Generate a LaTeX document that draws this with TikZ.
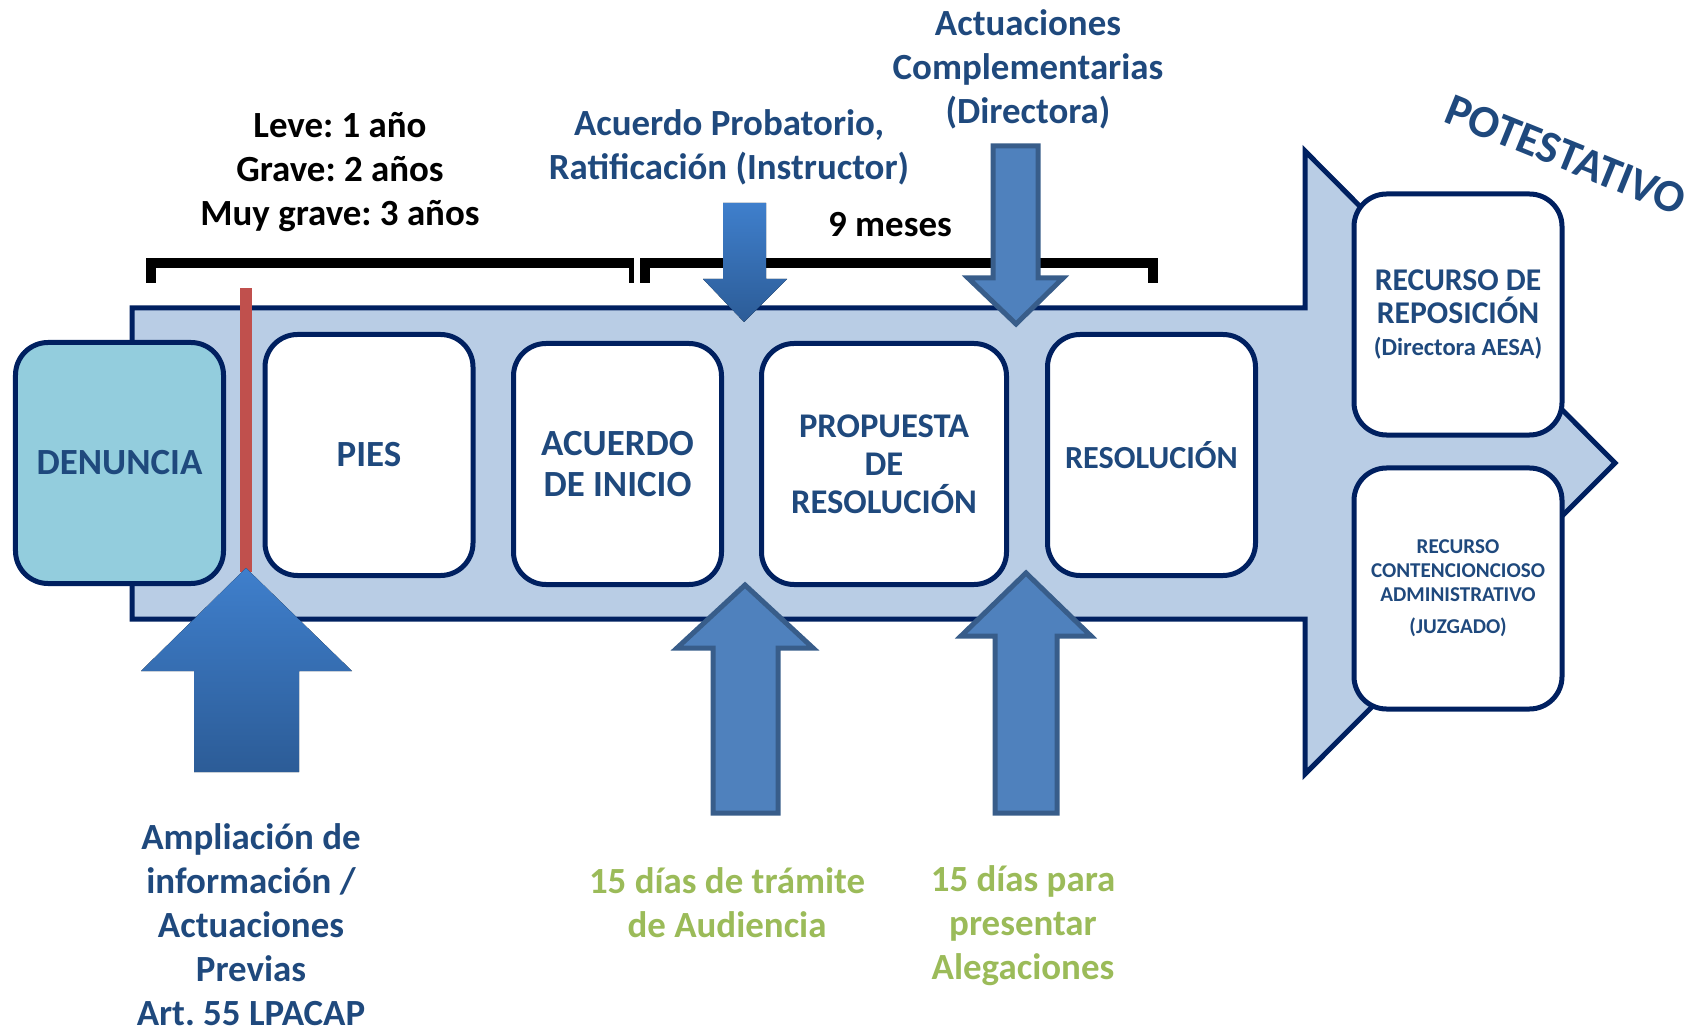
\documentclass[tikz,border=0pt]{standalone}
\usepackage{fontspec}
\setmainfont{Carlito}
\usetikzlibrary{positioning}
\frenchspacing
\definecolor{aesanavy}{HTML}{002060}
\definecolor{aesabody}{HTML}{B9CDE5}
\definecolor{aesateal}{HTML}{93CDDD}
\definecolor{aesatext}{HTML}{1F497D}
\definecolor{aesablue}{HTML}{4F81BD}
\definecolor{aesaedge}{HTML}{385D8A}
\definecolor{aesared}{HTML}{C0504D}
\definecolor{aesagreen}{HTML}{9BBB59}
\definecolor{gradtop}{HTML}{3F7FCC}
\definecolor{gradbot}{HTML}{2C5C97}

\tikzset{
  stage/.style={draw=aesanavy,line width=1mm,rounded corners=6.5mm,fill=white,
    minimum width=41.6mm,minimum height=48.2mm,align=center,text=aesatext,
    font=\fontsize{21}{23}\selectfont\bfseries},
  bigtext/.style={align=center,font=\fontsize{21}{25}\selectfont\bfseries},
  blockarrow/.style={fill=aesablue,draw=aesaedge,line width=1mm},
  gradarrow/.style={top color=gradtop,bottom color=gradbot},
  bracket/.style={line width=2mm}
}

\begin{document}
\begin{tikzpicture}[x=0.2mm,y=-0.2mm]
  \useasboundingbox (0,0) rectangle (1691,1028);

  % ---- Main process arrow ------------------------------------
  \filldraw[fill=aesabody,draw=aesanavy,line width=1mm]
    (132,308) -- (1305,308) -- (1305,151) -- (1615,463)
    -- (1305,774) -- (1305,619) -- (132,619) -- cycle;

  % prescription line
  \fill[aesared] (240,288) rectangle (252,572);

  % ---- Stages --------------------------------------------------
  \node[stage,fill=aesateal] (denuncia) at (119.5,463) {DENUNCIA};
  \node[stage] (pies) at (369,455) {PIES};
  \node[stage] (inicio) at (617.5,464) {ACUERDO\\DE INICIO};
  \node[stage,minimum width=49mm,font=\fontsize{19.7}{21.5}\selectfont\bfseries]
    (propuesta) at (884,464) {PROPUESTA\\DE\\RESOLUCIÓN};
  \node[stage,font=\fontsize{18.3}{21}\selectfont\bfseries] (resolucion)
    at (1151.5,455) {RESOLUCIÓN};

  % ---- Appeals -------------------------------------------------
  \node[stage,font=\fontsize{18}{19}\selectfont\bfseries] (reposicion) at (1458,314.5)
    {RECURSO DE\\REPOSICIÓN\\[-1pt]{\fontsize{14}{15}\selectfont(Directora AESA)}};
  \node[stage,font=\fontsize{12}{13.5}\selectfont\bfseries] (contencioso) at (1458,588.5)
    {RECURSO\\CONTENCIONCIOSO\\ADMINISTRATIVO\\[5pt](JUZGADO)};
  \node[font=\fontsize{26}{29}\selectfont\bfseries,text=aesatext,rotate=-22]
    (potestativo) at (1566,155) {POTESTATIVO};

  % ---- Deadlines brackets --------------------------------------
  \draw[bracket] (151,283) -- (151,263) -- (631,263);
  \draw[line width=1mm] (631,258) -- (631,283);
  \draw[bracket] (645,283) -- (645,263) -- (1153,263) -- (1153,283);
  \node[bigtext] (plazos) at (340,172)
    {Leve: 1 año\\Grave: 2 años\\Muy grave: 3 años};
  \node[bigtext] (meses) at (890,225) {9 meses};

  % ---- Top arrows ----------------------------------------------
  \fill[gradarrow] (723,203) -- (766,203) -- (766,279) -- (787,279)
    -- (744,322) -- (703,279) -- (723,279) -- cycle;
  \node[bigtext,text=aesatext] (probatorio) at (729,147)
    {Acuerdo Probatorio,\\Ratificación (Instructor)};

  \filldraw[blockarrow] (993,146) -- (1038,146) -- (1038,278) -- (1063,278)
    -- (1016,324) -- (968,278) -- (993,278) -- cycle;
  \node[bigtext,text=aesatext] (complementarias) at (1028,69)
    {Actuaciones\\Complementarias\\(Directora)};

  % ---- Bottom arrows -------------------------------------------
  \fill[gradarrow] (246,568) -- (352,671) -- (299,671) -- (299,772)
    -- (194,772) -- (194,671) -- (141,671) -- cycle;
  \node[bigtext,text=aesatext] (ampliacion) at (251,925)
    {Ampliación de\\información /\\Actuaciones\\Previas\\Art. 55 LPACAP};

  \filldraw[blockarrow] (745,585) -- (813,648) -- (778,648) -- (778,813)
    -- (713,813) -- (713,648) -- (677,648) -- cycle;
  \node[bigtext,text=aesagreen] (audiencia) at (727,903)
    {15 días de trámite\\de Audiencia};

  \filldraw[blockarrow] (1026,573) -- (1091,636) -- (1057,636) -- (1057,813)
    -- (995,813) -- (995,636) -- (961,636) -- cycle;
  \node[bigtext,text=aesagreen] (alegaciones) at (1023,926)
    {15 días para\\presentar\\Alegaciones};

\end{tikzpicture}
\end{document}
